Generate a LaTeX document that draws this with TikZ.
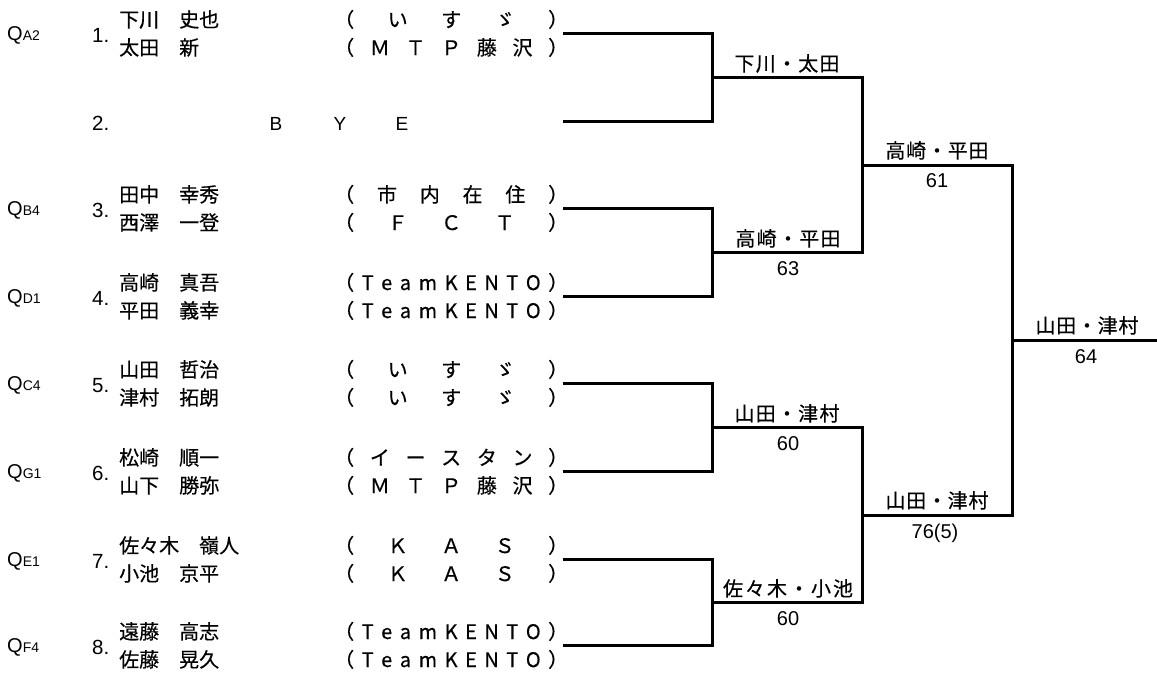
\documentclass[tikz,border=0pt]{standalone}
\usepackage{fontspec}
\setmainfont{Liberation Sans}
\newfontfamily\jp{Noto Sans CJK JP}[UprightFeatures={FakeBold=0.4}]
\newcommand\team[1]{\hbox to 234pt{#1}}
\newcommand\lbl[2]{\hbox to #1pt{#2}}
\newcommand\kento{{\jp （}\hfill T\hfill e\hfill a\hfill m\hfill K\hfill E\hfill N\hfill T\hfill O\hfill{\jp ）}}
\newcommand\isuzu{（\hfill い\hfill す\hfill ゞ\hfill ）}
\newcommand\mtp{（\hfill Ｍ\hfill Ｔ\hfill Ｐ\hfill 藤\hfill 沢\hfill ）}
\newcommand\kas{（\hfill Ｋ\hfill Ａ\hfill Ｓ\hfill ）}
\begin{document}
\begin{tikzpicture}[x=1pt,y=-1pt,
  br/.style={line width=3pt, line join=miter},
  nm/.style={anchor=base west, inner sep=0pt, font=\jp\fontsize{20}{24}\selectfont},
  tm/.style={anchor=base west, inner sep=0pt, font=\jp\fontsize{20}{24}\selectfont},
  num/.style={anchor=base west, inner sep=0pt, font=\fontsize{20.5}{24}\selectfont},
  ql/.style={anchor=base west, inner sep=0pt, font=\fontsize{20}{22}\selectfont},
  lab/.style={anchor=base, inner sep=0pt, font=\jp\fontsize{20}{24}\selectfont},
  sc/.style={anchor=base, inner sep=0pt, font=\fontsize{20}{24}\selectfont},
  bye/.style={anchor=base, inner sep=0pt, font=\fontsize{19}{22}\selectfont}]
\useasboundingbox[fill=white] (0,0) rectangle (1157,675);
\newcommand\entry[8]{%
  \node[ql] (q#1) at (7,#2+7.5) {Q{\fontsize{14}{16}\selectfont #3}};
  \node[num] (n#1) at (92,#2+9) {#1.};
  \node[nm] (a#1) at (119,#2-6) {#4};
  \node[nm] (b#1) at (119,#2+22) {#5};
  \node[tm] (s#1) at (334,#2-6) {\team{#6}};
  \node[tm] (u#1) at (334,#2+22) {\team{#7}};
}
\entry{1}{33}{A2}{下川　史也}{太田　新}{\isuzu}{\mtp}{}
\node[num] (n2) at (92,130) {2.};
\node[bye] (by1) at (276,130) {B};
\node[bye] (by2) at (340,130) {Y};
\node[bye] (by3) at (402,130) {E};
\entry{3}{208}{B4}{田中　幸秀}{西澤　一登}{（\hfill 市\hfill 内\hfill 在\hfill 住\hfill ）}{（\hfill Ｆ\hfill Ｃ\hfill Ｔ\hfill ）}{}
\entry{4}{296}{D1}{高崎　真吾}{平田　義幸}{\kento}{\kento}{}
\entry{5}{383}{C4}{山田　哲治}{津村　拓朗}{\isuzu}{\isuzu}{}
\entry{6}{471}{G1}{松崎　順一}{山下　勝弥}{（\hfill イ\hfill ー\hfill ス\hfill タ\hfill ン\hfill ）}{\mtp}{}
\entry{7}{559}{E1}{佐々木　嶺人}{小池　京平}{\kas}{\kas}{}
\entry{8}{645}{F4}{遠藤　高志}{佐藤　晃久}{\kento}{\kento}{}
% bracket coordinates
\coordinate (T1) at (563,33);  \coordinate (B1) at (563,121); \coordinate (J1) at (712,77);
\coordinate (T2) at (563,208); \coordinate (B2) at (563,296); \coordinate (J2) at (712,252);
\coordinate (T3) at (563,383); \coordinate (B3) at (563,471); \coordinate (J3) at (712,427);
\coordinate (T4) at (563,559); \coordinate (B4) at (563,645); \coordinate (J4) at (712,602);
\coordinate (S1) at (862,165); \coordinate (S2) at (862,515);
\coordinate (F) at (1012,340); \coordinate (E) at (1157,340);
\draw[br] (T1) -| (J1) |- (B1);
\draw[br] (T2) -| (J2) |- (B2);
\draw[br] (T3) -| (J3) |- (B3);
\draw[br] (T4) -| (J4) |- (B4);
\draw[br] (J1) -| (S1) |- (J2);
\draw[br] (J3) -| (S2) |- (J4);
\draw[br] (S1) -| (F) |- (S2);
\draw[br] (F) -- (E);
% winners
\node[lab] (w1) at (787,71) {\lbl{105}{下\hfill 川\hfill ・\hfill 太\hfill 田}};
\node[lab] (w2) at (788,246) {\lbl{105}{高\hfill 崎\hfill ・\hfill 平\hfill 田}};
\node[sc] (r2) at (788,275) {63};
\node[lab] (w3) at (787,421) {\lbl{105}{山\hfill 田\hfill ・\hfill 津\hfill 村}};
\node[sc] (r3) at (788,450) {60};
\node[lab] (w4) at (788,596) {\lbl{130}{佐\hfill 々\hfill 木\hfill ・\hfill 小\hfill 池}};
\node[sc] (r4) at (788,625) {60};
\node[lab] (x1) at (937,158) {\lbl{103}{高\hfill 崎\hfill ・\hfill 平\hfill 田}};
\node[sc] (y1) at (937,187) {61};
\node[lab] (x2) at (937,508) {\lbl{103}{山\hfill 田\hfill ・\hfill 津\hfill 村}};
\node[sc] (y2) at (935,538) {76(5)};
\node[lab] (fw) at (1087,333) {\lbl{103}{山\hfill 田\hfill ・\hfill 津\hfill 村}};
\node[sc] (fs) at (1086,363) {64};
\end{tikzpicture}
\end{document}
